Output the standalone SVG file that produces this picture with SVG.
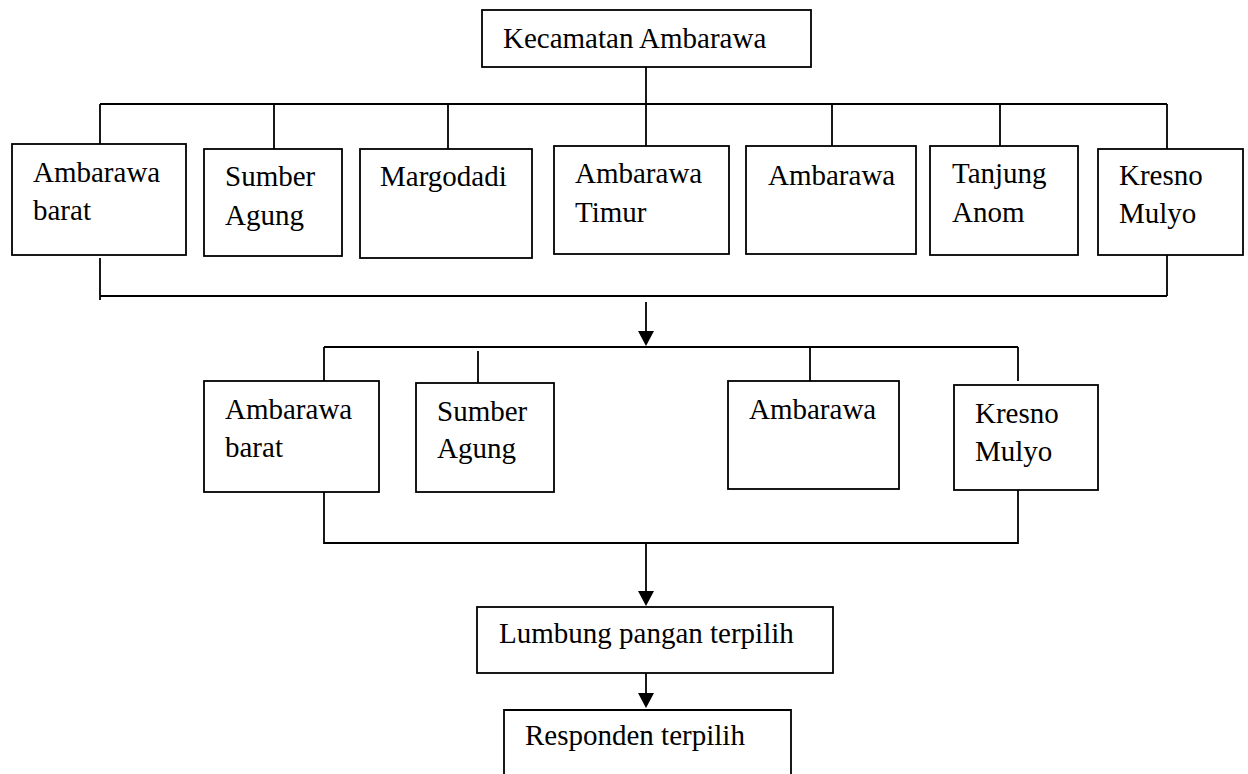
<svg xmlns="http://www.w3.org/2000/svg" width="1248" height="774" viewBox="0 0 1248 774">
<style>
.box{fill:#fff;stroke:#000;stroke-width:1.8}
.ln{fill:none;stroke:#000;stroke-width:1.8}
text{font-family:"Liberation Serif","Times New Roman",serif;font-size:29px;fill:#000}
</style>
<defs>
<marker id="ah" markerWidth="16" markerHeight="15" refX="8" refY="15" orient="auto" markerUnits="userSpaceOnUse" viewBox="0 0 16 15">
<path d="M0,0 L16,0 L8,15 Z" fill="#000"/>
</marker>
</defs>
<rect width="1248" height="774" fill="#fff"/>
<g id="connectors">
<path class="ln" d="M646,67 V146 M100,104 H1167 M100,104 V144 M274,104 V149 M448,104 V149 M832,104 V147 M1000,104 V146 M1167,104 V149"/>
<path class="ln" d="M100,258 V300 M100,296 H1167 M1167,255 V296"/>
<path d="M646,302 V331" stroke="#000" stroke-width="1.8"/>
<path d="M638,331 L654,331 L646,346 Z" fill="#000"/>
<path class="ln" d="M324,347 H1018 M324,347 V381 M478,351 V383 M810,347 V381 M1018,347 V381"/>
<path class="ln" d="M324,492 V543 H1018 V490"/>
<path d="M646,543 V591" stroke="#000" stroke-width="1.8"/>
<path d="M638,591 L654,591 L646,606 Z" fill="#000"/>
<path d="M646,670 V693" stroke="#000" stroke-width="1.8"/>
<path d="M638,693 L654,693 L646,708 Z" fill="#000"/>
</g>
<g id="kecamatan"><rect class="box" x="482" y="10" width="329" height="57"/><text x="503" y="48">Kecamatan Ambarawa</text></g>
<g id="t1"><rect class="box" x="12" y="144" width="174" height="111"/><text x="33" y="182">Ambarawa</text><text x="33" y="220">barat</text></g>
<g id="t2"><rect class="box" x="204" y="149" width="138" height="107"/><text x="225" y="186">Sumber</text><text x="225" y="225">Agung</text></g>
<g id="t3"><rect class="box" x="360" y="149" width="172" height="109"/><text x="380" y="186">Margodadi</text></g>
<g id="t4"><rect class="box" x="554" y="146" width="175" height="108"/><text x="575" y="183">Ambarawa</text><text x="575" y="222">Timur</text></g>
<g id="t5"><rect class="box" x="746" y="146" width="170" height="108"/><text x="768" y="185">Ambarawa</text></g>
<g id="t6"><rect class="box" x="930" y="146" width="148" height="109"/><text x="952" y="183">Tanjung</text><text x="952" y="222">Anom</text></g>
<g id="t7"><rect class="box" x="1098" y="149" width="145" height="106"/><text x="1119" y="185">Kresno</text><text x="1119" y="223">Mulyo</text></g>
<g id="m1"><rect class="box" x="204" y="381" width="175" height="111"/><text x="225" y="419">Ambarawa</text><text x="225" y="457">barat</text></g>
<g id="m2"><rect class="box" x="416" y="383" width="138" height="109"/><text x="437" y="421">Sumber</text><text x="437" y="458">Agung</text></g>
<g id="m3"><rect class="box" x="728" y="381" width="171" height="108"/><text x="749" y="419">Ambarawa</text></g>
<g id="m4"><rect class="box" x="954" y="385" width="144" height="105"/><text x="975" y="423">Kresno</text><text x="975" y="461">Mulyo</text></g>
<g id="lumbung"><rect class="box" x="477" y="607" width="356" height="66"/><text x="499" y="643">Lumbung pangan terpilih</text></g>
<g id="responden"><path class="box" d="M504,774 V710 H791 V774"/><text x="525" y="745">Responden terpilih</text></g>
</svg>
